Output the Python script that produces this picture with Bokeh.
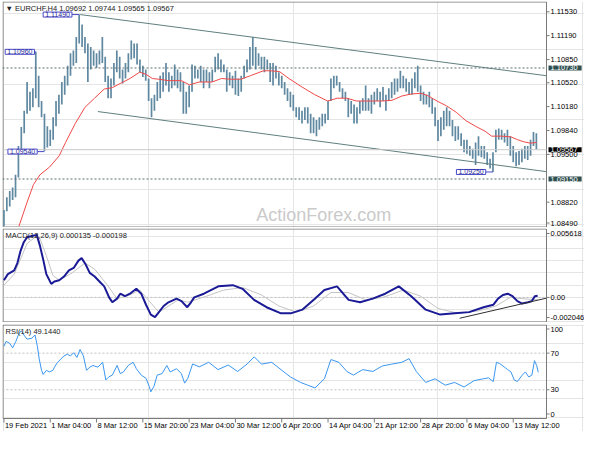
from bokeh.plotting import figure
from bokeh.layouts import column
from bokeh.models import Range1d, Label
from bokeh.core.properties import value
from bokeh.embed import file_html
from bokeh.resources import INLINE

# ---------------- data ----------------
# each entry = one pair of H4 bars (8 hours), first at 19 Feb 2021 20:00
bar_high = [
    1.0871, 1.0889, 1.0898, 1.0903, 1.0921, 1.0962, 1.0989, 1.1012, 1.1053, 1.1039,
    1.1044, 1.1096, 1.1062, 1.1026, 1.1008, 1.0990, 1.0985, 1.1003, 1.1026, 1.1035,
    1.1053, 1.1062, 1.1076, 1.1094, 1.1098, 1.1117, 1.1149, 1.1135, 1.1117, 1.1108,
    1.1103, 1.1098, 1.1094, 1.1098, 1.1117, 1.1089, 1.1062, 1.1058, 1.1080, 1.1098,
    1.1089, 1.1071, 1.1080, 1.1094, 1.1112, 1.1108, 1.1108, 1.1085, 1.1076, 1.1071,
    1.1058, 1.1030, 1.1035, 1.1053, 1.1062, 1.1067, 1.1080, 1.1067, 1.1062, 1.1078,
    1.1071, 1.1067, 1.1053, 1.1039, 1.1048, 1.1078, 1.1076, 1.1071, 1.1076, 1.1071,
    1.1071, 1.1067, 1.1071, 1.1089, 1.1094, 1.1085, 1.1078, 1.1071, 1.1067, 1.1062,
    1.1069, 1.1058, 1.1062, 1.1076, 1.1085, 1.1103, 1.1117, 1.1103, 1.1094, 1.1089,
    1.1089, 1.1085, 1.1080, 1.1080, 1.1076, 1.1067, 1.1062, 1.1053, 1.1044, 1.1039,
    1.1035, 1.1017, 1.1017, 1.1012, 1.1017, 1.1017, 1.1008, 1.1003, 1.0999, 1.1003,
    1.1008, 1.1008, 1.1026, 1.1058, 1.1062, 1.1062, 1.1053, 1.1044, 1.1039, 1.1030,
    1.1026, 1.1021, 1.1017, 1.1026, 1.1030, 1.1048, 1.1030, 1.1035, 1.1039, 1.1044,
    1.1039, 1.1046, 1.1035, 1.1044, 1.1053, 1.1058, 1.1058, 1.1069, 1.1062, 1.1058,
    1.1053, 1.1058, 1.1067, 1.1076, 1.1048, 1.1039, 1.1035, 1.1039, 1.1030, 1.1017,
    1.0999, 1.1003, 1.1012, 1.1017, 1.1012, 1.0999, 1.0990, 1.0990, 1.0980, 1.0971,
    1.0971, 1.0962, 1.0958, 1.0967, 1.0976, 1.0962, 1.0962, 1.0953, 1.0944, 1.0953,
    1.0985, 1.0987, 1.0985, 1.0980, 1.0985, 1.0976, 1.0962, 1.0953, 1.0955, 1.0958,
    1.0962, 1.0962, 1.0971, 1.0982, 1.0980,
]
bar_low = [
    1.0848, 1.0869, 1.0876, 1.0885, 1.0889, 1.0917, 1.0958, 1.0980, 1.1008, 1.1012,
    1.1017, 1.1030, 1.1017, 1.1003, 1.0955, 1.0960, 1.0962, 1.0971, 1.0990, 1.1008,
    1.1021, 1.1035, 1.1048, 1.1062, 1.1076, 1.1080, 1.1108, 1.1103, 1.1094, 1.1053,
    1.1071, 1.1076, 1.1073, 1.1078, 1.1080, 1.1053, 1.1030, 1.1030, 1.1048, 1.1067,
    1.1058, 1.1051, 1.1058, 1.1067, 1.1085, 1.1087, 1.1078, 1.1067, 1.1060, 1.1055,
    1.1026, 1.1003, 1.1012, 1.1026, 1.1030, 1.1039, 1.1048, 1.1039, 1.1044, 1.1048,
    1.1044, 1.1039, 1.1008, 1.1008, 1.1017, 1.1039, 1.1058, 1.1058, 1.1053, 1.1044,
    1.1053, 1.1044, 1.1053, 1.1067, 1.1071, 1.1067, 1.1067, 1.1039, 1.1048, 1.1044,
    1.1035, 1.1033, 1.1039, 1.1058, 1.1067, 1.1071, 1.1076, 1.1071, 1.1076, 1.1071,
    1.1067, 1.1071, 1.1053, 1.1048, 1.1058, 1.1048, 1.1044, 1.1035, 1.1026, 1.1017,
    1.1012, 1.1003, 1.0999, 1.0994, 1.0999, 1.0994, 1.0980, 1.0980, 1.0976, 1.0985,
    1.0990, 1.0994, 1.0999, 1.1026, 1.1044, 1.1048, 1.1039, 1.1030, 1.1026, 1.1003,
    1.1008, 1.0994, 1.0994, 1.1008, 1.1012, 1.1012, 1.1012, 1.1008, 1.1021, 1.1026,
    1.1017, 1.1026, 1.1012, 1.1026, 1.1030, 1.1035, 1.1039, 1.1044, 1.1044, 1.1039,
    1.1035, 1.1035, 1.1044, 1.1039, 1.1026, 1.1021, 1.1021, 1.1017, 1.1008, 1.0990,
    1.0969, 1.0976, 1.0985, 1.0990, 1.0990, 1.0976, 1.0969, 1.0971, 1.0962, 1.0953,
    1.0951, 1.0948, 1.0944, 1.0935, 1.0948, 1.0946, 1.0944, 1.0935, 1.0930, 1.0925,
    1.0953, 1.0971, 1.0971, 1.0967, 1.0962, 1.0948, 1.0939, 1.0933, 1.0935, 1.0939,
    1.0944, 1.0942, 1.0948, 1.0962, 1.0957,
]
BARS_PER_ENTRY = 2

# moving average (red), x in H4-bar index
ma_idx = [10.4, 16, 20.4, 24.9, 31.5, 38.2, 42.6, 49.3, 56, 62.6, 69.3, 74.9, 80.4, 87.1,
          93.8, 98.2, 102.6, 107.1, 113.8, 122.6, 128.2, 134.8, 143.7, 150.4, 157, 163.7,
          170.4, 179.3, 183.7, 190.4, 197, 205.9, 214.8, 223.7, 230.4, 237, 243.7, 254.9,
          261.5, 268.2, 274.9, 281.5, 288.2, 292.6, 299.3, 306, 312.6, 319.3, 326, 332.6,
          337.1, 343.8, 350.4, 354.9, 359.3, 363.8, 368.2]
ma_val = [1.0848, 1.0882, 1.0907, 1.0921, 1.0932, 1.0948, 1.0967, 1.0994, 1.1017, 1.1030,
          1.1043, 1.1045, 1.1051, 1.1058, 1.1067, 1.1064, 1.1058, 1.1057, 1.1055, 1.1055,
          1.1049, 1.1053, 1.1053, 1.1058, 1.1057, 1.1057, 1.1062, 1.1069, 1.1069, 1.1068,
          1.1058, 1.1046, 1.1035, 1.1026, 1.1030, 1.1030, 1.1026, 1.1026, 1.1026, 1.1027,
          1.1033, 1.1036, 1.1037, 1.1034, 1.1026, 1.1019, 1.1010, 1.0998, 1.0990, 1.0983,
          1.0976, 1.0976, 1.0975, 1.0971, 1.0968, 1.0966, 1.0967]

# MACD main line
macd_idx = [0, 2.7, 7.1, 9.3, 11.5, 13.7, 16, 19.3, 22.7, 24.9, 27.1, 29.3, 32.7, 34.9, 38.2,
            41.5, 44.9, 48.2, 51.5, 53.7, 56.4, 59.3, 62.7, 66, 69.3, 72.7, 74.9, 78.2, 80.4,
            83.7, 87.1, 91.5, 94.9, 98.2, 101.5, 104.4, 107.1, 110.4, 113.7, 119.3, 122.7,
            126.7, 129.3, 131.5, 138.2, 148.2, 158.2, 164.9, 172.9, 181.5, 191.5, 198.2,
            206.2, 214.9, 221.5, 230.2, 238.2, 246.2, 254.9, 263.5, 272.9, 281.5, 291.5,
            301.5, 311.5, 321.5, 331.5, 338.2, 341.5, 344.9, 348.2, 351.5, 354.9, 358.2,
            362.2, 364.9, 366.9, 368.9]
macd_val = [0.0014, 0.0019, 0.0022, 0.0028, 0.0038, 0.0045, 0.0049, 0.0050, 0.0051, 0.0042,
            0.0031, 0.0019, 0.0011, 0.0013, 0.0014, 0.0017, 0.0022, 0.0024, 0.0030, 0.0032,
            0.0027, 0.0020, 0.0017, 0.0013, 0.0009, 0.0000, -0.0004, -0.0001, 0.0003, 0.0001,
            0.0003, 0.0007, 0.0003, -0.0006, -0.0014, -0.0016, -0.0012, -0.0007, -0.0004,
            -0.0001, -0.0003, -0.0008, -0.0004, 0.0000, 0.0003, 0.0009, 0.0010, 0.0007,
            -0.0002, -0.0008, -0.0013, -0.0013, -0.0010, -0.0001, 0.0006, 0.0009, -0.0002,
            -0.0004, -0.0001, 0.0003, 0.0009, 0.0001, -0.0010, -0.0014, -0.0013, -0.0012,
            -0.0008, -0.0006, -0.0001, 0.0002, 0.0003, 0.0001, -0.0003, -0.0005, -0.0004,
            -0.0003, 0.0001, 0.000135]
# MACD signal line
sig_idx = [0, 7.1, 16, 21.5, 24.9, 29.3, 33.8, 38.2, 47.1, 56, 62.7, 71.5, 78.2, 87.1, 93.8,
           100.4, 107.1, 113.8, 120.4, 127.1, 140, 152, 165, 178, 190, 202, 214, 226, 238,
           250, 262, 276, 288, 300, 314, 328, 340, 350, 358, 369]
sig_val = [0.0010, 0.0019, 0.0044, 0.0049, 0.0048, 0.0034, 0.0018, 0.0014, 0.0020, 0.0028,
           0.0023, 0.0010, -0.0001, 0.0002, 0.0006, -0.0003, -0.0012, -0.0007, -0.0002,
           -0.0004, 0.0001, 0.0006, 0.0008, 0.0002, -0.0007, -0.0012, -0.0007, 0.0004,
           0.0004, -0.0002, 0.0000, 0.0006, 0.0001, -0.0009, -0.0013, -0.0011, -0.0007,
           0.0000, -0.0001, -0.000198]
macd_trend_idx = [315, 375]
macd_trend_val = [-0.0017, -0.00006]

# RSI(14)
rsi_idx = [0, 1.5, 3.8, 6, 8.2, 10.4, 12, 13.8, 16, 19.3, 21.5, 23.1, 24.4, 26, 27.1, 29.3,
           31.5, 33.8, 34.9, 37.1, 39.3, 41.5, 43.8, 46, 48.2, 50.4, 52.6, 54.9, 57.1, 59.3,
           61.5, 64.9, 68.2, 70.4, 72.6, 74.9, 78.2, 80.4, 82.6, 85.9, 89.3, 91.5, 94.9,
           98.2, 100.4, 101.5, 103.7, 105.9, 109.3, 112.6, 114.9, 119.3, 122.6, 124.9, 127.1,
           130.4, 135, 141.5, 148, 155, 161.5, 168, 173, 178, 185, 191.5, 198, 205, 210,
           215, 221.5, 226, 231.5, 237, 241.5, 248, 255, 261.5, 268, 275, 280, 285, 291.5,
           298, 305, 311.5, 318, 325, 331.5, 334.9, 338.2, 340.4, 342.6, 346, 348.2, 350.4,
           352.7, 354.9, 358.2, 360.4, 362.7, 364.9, 366.7, 368.2, 369.3]
rsi_val = [77.5, 82.8, 81, 75.8, 82.8, 91.6, 94.4, 89.8, 85.3, 86.3, 89.8, 77.5, 63.5, 51.2,
           46.7, 51.2, 49.5, 51.2, 54.7, 60, 63.5, 67, 68.8, 67, 70.5, 65.3, 74, 67, 51.2,
           54.7, 56.5, 54.7, 60, 40.7, 44.2, 46, 56.5, 47.7, 49.5, 56.5, 60, 53, 46, 42.5,
           33.7, 27.7, 33.7, 46, 47.7, 56.5, 49.5, 53, 47.7, 37.2, 42.5, 58.2, 55, 60, 52,
           57, 50, 58, 66, 58, 60, 52, 44, 38, 35, 32, 42, 63, 60, 50, 46, 52, 50, 56, 58,
           60, 64, 50, 38, 42, 35, 38, 33, 40, 42, 43, 39, 60, 58.6, 54.7, 52, 49.5, 40.7,
           39, 46, 49.5, 44, 46, 61.8, 56.5, 49.144]

# channel lines, levels and marked extremes
chan_up_idx = [52.7, 374.9]
chan_up_val = [1.1149, 1.1062]
chan_lo_idx = [64.9, 374.9]
chan_lo_val = [1.1011, 1.09255]
resistance = 1.1073
support = 1.0915
last_price = 1.09567
mark_idx = [52, 22, 28, 338]
mark_val = [1.1149, 1.1096, 1.0954, 1.0925]
mark_txt = ["1.11490", "1.10960", "1.09540", "1.09250"]

x_tick_idx = [0, 32, 64, 96, 128, 160, 192, 224, 256, 288, 320, 352]
x_tick_txt = ["19 Feb 2021", "1 Mar 04:00", "8 Mar 12:00", "15 Mar 20:00", "23 Mar 04:00",
              "30 Mar 12:00", "6 Apr 20:00", "14 Apr 04:00", "21 Apr 12:00", "28 Apr 20:00",
              "6 May 04:00", "13 May 12:00"]
price_ticks = [1.1153, 1.1119, 1.1085, 1.1052, 1.1018, 1.0984, 1.0950, 1.0882, 1.0849]
macd_ticks_txt = ["0.005618", "0.00", "-0.002046"]
rsi_ticks_txt = ["100", "70", "30", "0"]

# ---------------- styling / geometry ----------------
FONT = "Liberation Sans"
FS_PX = "7.5px"
FS = value(FS_PX)
FRAME = "#7a7a7a"
BAR = "#5f88a1"
LB = 2
CHART_W = 544          # px of the chart area
LABEL_W = 38           # px of the price-scale area on the right
X0, X1 = -1.0, 375.0
DX = (X1 - X0) / CHART_W
XR = X1 + LABEL_W * DX
xr = Range1d(X0, XR)


def panel(chart_h, y0, y1, top, extra_bottom=0):
    dy = (y1 - y0) / chart_h
    p = figure(frame_width=CHART_W + LABEL_W, frame_height=chart_h + extra_bottom,
               x_range=xr, y_range=Range1d(y0 - extra_bottom * dy, y1),
               x_axis_location=None, y_axis_location=None,
               output_backend="svg", toolbar_location=None,
               min_border_left=LB, min_border_right=0,
               min_border_top=top, min_border_bottom=0)
    p.outline_line_color = None
    p.background_fill_color = "white"
    p.border_fill_color = "white"
    yb = y0 + (0.5 * dy if extra_bottom == 0 else 0)
    xl = X0 + 0.5 * DX
    p.line([xl, X1, X1, xl, xl], [yb, yb, y1 - 0.5 * dy, y1 - 0.5 * dy, yb],
           line_color=FRAME, line_width=1)
    return p, dy


def scale_labels(p, pos, txt):
    p.segment(x0=[X1] * len(pos), x1=[X1 + 3 * DX] * len(pos), y0=pos, y1=pos,
              line_color=FRAME, line_width=1)
    p.text(x=[X1 + 4 * DX] * len(pos), y=pos, text=txt, text_font=value(FONT),
           text_font_size=FS, text_baseline="middle", text_align="left", text_color="black")


def corner_title(p, y_top, dy, txt):
    p.text(x=[X0 + 3 * DX], y=[y_top - 2 * dy], text=[txt], text_font=value(FONT),
           text_font_size=FS, text_baseline="top", text_align="left", text_color="#202020")


# ---------- main price panel ----------
P_TOP, P_BOT = 1.11676, 1.08460
p1, d1 = panel(226, P_BOT, P_TOP, 1)
bx = [BARS_PER_ENTRY * i for i in range(len(bar_high))]
p1.segment(x0=bx, y0=bar_low, x1=bx, y1=bar_high, line_color=BAR, line_width=1.7)
p1.line(ma_idx, ma_val, line_color="#f04848", line_width=1)
p1.line(chan_up_idx, chan_up_val, line_color="#5f7f7f", line_width=1)
p1.line(chan_lo_idx, chan_lo_val, line_color="#5f7f7f", line_width=1)
for lv in (resistance, support):
    p1.line([X0, X1], [lv, lv], line_color="#5f7070", line_dash="2 2", line_width=1)
p1.line([X0, X1], [last_price, last_price], line_color="#c8c8c8", line_width=1)

MARK_FS = "7px"
mark_box_w = 30 * DX                      # approx. box width in bar units
for bi, pv, txt in zip(mark_idx, mark_val, mark_txt):
    right = max(bi - 5, X0 + mark_box_w + 2 * DX)   # keep the box inside the panel
    p1.line([right, bi], [pv, pv], line_color="#4a4ac8", line_width=1)
    p1.add_layout(Label(x=right, y=pv, text=txt, text_align="right", text_baseline="middle",
                        text_font=FONT, text_font_size=MARK_FS, text_color="#2a2a9a",
                        background_fill_color="white", border_line_color="#4a4ac8",
                        padding=dict(left=2, right=2, top=0, bottom=0)))

# lowest scale label is kept inside the panel, as the terminal does
price_pos = price_ticks[:-1] + [max(price_ticks[-1], P_BOT + 4.5 * d1)]
scale_labels(p1, price_pos, [f"{t:.5f}" for t in price_ticks])
for lv, txt, bg in ((resistance, "1.10730", "#2f4f4f"), (last_price, "1.09567", "black"),
                    (support, "1.09150", "#2f4f4f")):
    p1.add_layout(Label(x=X1, y=lv, x_offset=2, text=txt, text_align="left",
                        text_baseline="middle", text_font=FONT, text_font_size=FS_PX,
                        text_color="white", background_fill_color=bg,
                        padding=dict(left=2, right=4, top=0, bottom=0)))

corner_title(p1, P_TOP, d1, "\u25bc EURCHF,H4  1.09692 1.09744 1.09565 1.09567")
p1.text(x=[221], y=[1.0864], text=["ActionForex.com"], text_font=value(FONT),
        text_font_size=value("18px"), text_align="center", text_baseline="middle",
        text_color="#cacaca")

# ---------- MACD panel ----------
M_TOP, M_BOT = 0.005618, -0.002046
p2, d2 = panel(94, M_BOT, M_TOP, 1)
p2.line([X0, X1], [0, 0], line_color="#c0c0c0", line_dash="2 2", line_width=1)
p2.line(sig_idx, sig_val, line_color="#c4c4c4", line_width=1)
p2.line(macd_idx, macd_val, line_color="#1a1a96", line_width=2)
p2.line(macd_trend_idx, macd_trend_val, line_color="#303030", line_width=1)
scale_labels(p2, [M_TOP - 5 * d2, 0.0, M_BOT + 5 * d2], macd_ticks_txt)
corner_title(p2, M_TOP, d2, "MACD(12,26,9) 0.000135 -0.000198")

# ---------- RSI panel ----------
R_TOP, R_BOT = 101.3, -1.4
p3, d3 = panel(94, R_BOT, R_TOP, 2, extra_bottom=13)
for lv in (70, 30):
    p3.line([X0, X1], [lv, lv], line_color="#c0c0c0", line_dash="2 2", line_width=1)
p3.line(rsi_idx, rsi_val, line_color="#3a96f0", line_width=1)
scale_labels(p3, [R_TOP - 4.5 * d3, 70.0, 30.0, R_BOT + 4.5 * d3], rsi_ticks_txt)
corner_title(p3, R_TOP, d3, "RSI(14) 49.1440")
# time axis
p3.segment(x0=x_tick_idx, x1=x_tick_idx, y0=[R_BOT] * len(x_tick_idx),
           y1=[R_BOT - 4 * d3] * len(x_tick_idx), line_color=FRAME, line_width=1)
p3.text(x=x_tick_idx, y=[R_BOT - 2.5 * d3] * len(x_tick_idx), text=x_tick_txt,
        x_offset=1, text_font=value(FONT), text_font_size=FS, text_baseline="top",
        text_align="left", text_color="black")

layout = column(p1, p2, p3, spacing=0)
open("out.html", "w").write(file_html(layout, INLINE))
